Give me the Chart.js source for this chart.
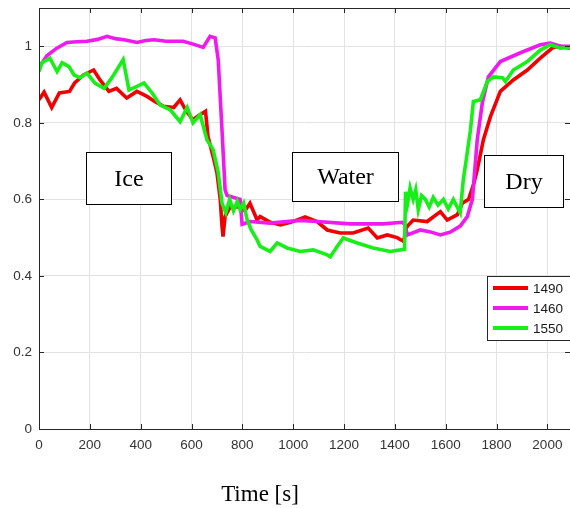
<!DOCTYPE html>
<html>
<head>
<meta charset="utf-8">
<script src="https://cdn.jsdelivr.net/npm/chart.js@4.4.0/dist/chart.umd.min.js"></script>
<style>
html,body{margin:0;padding:0;background:#fff;overflow:hidden;}
#wrap{width:570px;height:508px;position:relative;}
</style>
</head>
<body>
<div id="wrap"><canvas id="c" width="570" height="508"></canvas></div>
<script>
// ---- data ----
const seriesLabels = ['1490', '1460', '1550'];
const seriesColors = ['#f00000', '#ee1aee', '#18ee18'];

const t1490 = [0,20,50,80,120,140,175,215,240,275,305,345,385,425,455,490,530,555,580,605,630,655,665,685,700,713,720,724,732,752,790,810,830,858,870,910,950,990,1047,1094,1134,1185,1236,1295,1331,1370,1409,1435,1442,1449,1472,1527,1579,1606,1646,1665,1690,1710,1724,1748,1776,1815,1866,1921,1972,2020,2050,2089];
const v1490 = [0.86,0.88,0.84,0.878,0.882,0.904,0.925,0.938,0.912,0.882,0.89,0.865,0.882,0.869,0.856,0.843,0.84,0.86,0.83,0.808,0.82,0.83,0.764,0.712,0.67,0.6,0.53,0.503,0.555,0.58,0.58,0.57,0.59,0.546,0.555,0.54,0.533,0.54,0.554,0.542,0.52,0.512,0.512,0.525,0.499,0.507,0.5,0.49,0.52,0.53,0.546,0.542,0.568,0.546,0.56,0.59,0.6,0.64,0.677,0.755,0.816,0.882,0.912,0.938,0.969,0.996,1.0,0.995];

const t1460 = [0,31,70,110,150,189,230,268,300,335,386,420,453,500,567,610,646,673,693,705,720,732,740,791,799,831,909,1028,1094,1224,1354,1429,1438,1450,1500,1540,1579,1620,1657,1685,1705,1724,1744,1768,1815,1894,1972,2012,2051,2089];
const v1460 = [0.945,0.975,0.995,1.01,1.012,1.013,1.018,1.026,1.02,1.017,1.01,1.015,1.017,1.013,1.013,1.005,0.997,1.026,1.022,0.965,0.78,0.625,0.61,0.6,0.535,0.542,0.538,0.545,0.542,0.536,0.536,0.54,0.535,0.507,0.52,0.515,0.507,0.515,0.53,0.555,0.6,0.755,0.852,0.92,0.96,0.983,1.004,1.008,1.0,1.0];

const t1550 = [0,12,43,71,91,118,138,161,189,220,256,287,331,354,386,413,445,476,516,555,583,606,634,661,685,705,720,735,750,765,780,791,805,819,835,858,870,909,937,976,1028,1079,1134,1146,1173,1197,1252,1315,1382,1421,1438,1442,1450,1460,1472,1482,1492,1505,1520,1535,1551,1570,1591,1610,1630,1645,1657,1669,1680,1697,1709,1736,1764,1787,1823,1835,1866,1921,1972,2012,2051,2089];
const v1550 = [0.934,0.957,0.969,0.934,0.957,0.947,0.925,0.918,0.93,0.904,0.89,0.918,0.965,0.886,0.895,0.904,0.878,0.847,0.834,0.803,0.84,0.8,0.821,0.755,0.73,0.67,0.59,0.565,0.6,0.57,0.595,0.573,0.59,0.546,0.52,0.494,0.477,0.464,0.486,0.473,0.464,0.468,0.455,0.45,0.477,0.499,0.486,0.473,0.464,0.468,0.47,0.62,0.59,0.63,0.6,0.625,0.573,0.61,0.6,0.58,0.605,0.585,0.6,0.575,0.6,0.58,0.565,0.65,0.7,0.78,0.856,0.86,0.908,0.92,0.918,0.908,0.938,0.96,0.99,1.004,0.995,0.997];

const xTickValues = [0,200,400,600,800,1000,1200,1400,1600,1800,2000];
const yTickValues = [0,0.2,0.4,0.6,0.8,1];
const regionLabels = ['Ice', 'Water', 'Dry'];
// region label boxes in data units: [x0, x1, yTop, yBottom]
const regionBoxes = [[185,520,0.724,0.588],[996,1413,0.724,0.596],[1752,2063,0.716,0.58]];
const xTitle = 'Time [s]';

function pairs(t, v){ return t.map((x,i)=>({x:x, y:v[i]})); }
const seriesT = [t1490, t1460, t1550];
const seriesV = [v1490, v1460, v1550];

const datasets = seriesLabels.map((lab,i)=>({
  label: lab,
  data: pairs(seriesT[i], seriesV[i]),
  borderColor: seriesColors[i],
  backgroundColor: seriesColors[i],
  borderWidth: 3.6,
  pointRadius: 0,
  tension: 0,
  fill: false,
  order: 3 - i
}));

const tickFont = {family: '"Liberation Sans", Arial, sans-serif', size: 13.5};
const AXC = '#333333';

const decor = {
  id: 'decor',
  afterDatasetsDraw(chart){
    const ctx = chart.ctx, a = chart.chartArea;
    const xs = chart.scales.x, ys = chart.scales.y;
    ctx.save();
    // axes box + inward ticks
    ctx.strokeStyle = '#262626';
    ctx.lineWidth = 1;
    ctx.beginPath();
    ctx.moveTo(a.left+0.5, a.top+0.5); ctx.lineTo(a.left+0.5, a.bottom+0.5);
    ctx.lineTo(a.right+0.5, a.bottom+0.5);
    ctx.moveTo(a.left+0.5, a.top+0.5); ctx.lineTo(a.right+0.5, a.top+0.5);
    xTickValues.forEach(v=>{
      const p = Math.round(xs.getPixelForValue(v))+0.5;
      ctx.moveTo(p, a.bottom); ctx.lineTo(p, a.bottom-5);
      ctx.moveTo(p, a.top); ctx.lineTo(p, a.top+5);
    });
    yTickValues.forEach(v=>{
      const p = Math.round(ys.getPixelForValue(v))+0.5;
      ctx.moveTo(a.left, p); ctx.lineTo(a.left+5, p);
      ctx.moveTo(a.right, p); ctx.lineTo(a.right-5, p);
    });
    ctx.stroke();

    // region label boxes
    ctx.font = '24px "Liberation Serif", "Times New Roman", serif';
    ctx.textAlign = 'center'; ctx.textBaseline = 'middle';
    regionBoxes.forEach((b,i)=>{
      const x0 = Math.round(xs.getPixelForValue(b[0]))+0.5, x1 = Math.round(xs.getPixelForValue(b[1]))+0.5;
      const y0 = Math.round(ys.getPixelForValue(b[2]))+0.5, y1 = Math.round(ys.getPixelForValue(b[3]))+0.5;
      ctx.fillStyle = '#fff';
      ctx.fillRect(x0, y0, x1-x0, y1-y0);
      ctx.strokeStyle = '#000'; ctx.lineWidth = 1;
      ctx.strokeRect(x0, y0, x1-x0, y1-y0);
      ctx.fillStyle = '#000';
      ctx.fillText(regionLabels[i], (x0+x1)/2, (y0+y1)/2 + 1);
    });

    // legend
    const lx = 487.5, ly = 276.5, lw = 84, lh = 64;
    ctx.fillStyle = '#fff';
    ctx.fillRect(lx, ly, lw, lh);
    ctx.strokeStyle = '#262626'; ctx.lineWidth = 1;
    ctx.strokeRect(lx, ly, lw, lh);
    ctx.font = '13.5px "Liberation Sans", Arial, sans-serif';
    ctx.textAlign = 'left'; ctx.textBaseline = 'middle';
    seriesLabels.forEach((lab,i)=>{
      const yy = 288 + i*20;
      ctx.strokeStyle = seriesColors[i]; ctx.lineWidth = 4;
      ctx.beginPath(); ctx.moveTo(493, yy); ctx.lineTo(528, yy); ctx.stroke();
      ctx.fillStyle = '#1a1a1a';
      ctx.fillText(lab, 533, yy+1);
    });

    // x-axis title
    ctx.font = '23px "Liberation Serif", "Times New Roman", serif';
    ctx.textAlign = 'center'; ctx.textBaseline = 'middle';
    ctx.fillStyle = '#000';
    ctx.fillText(xTitle, 260, 495);
    ctx.restore();
  }
};

new Chart(document.getElementById('c'), {
  type: 'line',
  data: { datasets: datasets },
  options: {
    responsive: false,
    animation: false,
    events: [],
    layout: { padding: { top: 8, right: 0, left: 0, bottom: 0 } },
    plugins: { legend: { display: false }, tooltip: { enabled: false }, title: { display: false } },
    scales: {
      x: {
        type: 'linear', min: 0, max: 2089,
        afterBuildTicks: s => { s.ticks = xTickValues.map(v=>({value:v})); },
        afterFit: s => { s.height = 79; s.paddingLeft = 0; s.paddingRight = 0; },
        ticks: { font: tickFont, color: AXC, padding: 8, maxRotation: 0, autoSkip: false,
                 callback: v => String(v) },
        grid: { color: '#e2e2e2', lineWidth: 1, drawTicks: false },
        border: { display: false }
      },
      y: {
        type: 'linear', min: 0, max: 1.1,
        afterBuildTicks: s => { s.ticks = yTickValues.map(v=>({value:v})); },
        afterFit: s => { s.width = 39; s.paddingTop = 0; s.paddingBottom = 0; },
        ticks: { font: tickFont, color: AXC, padding: 7, autoSkip: false,
                 callback: v => String(+v.toFixed(1)) },
        grid: { color: '#e2e2e2', lineWidth: 1, drawTicks: false },
        border: { display: false }
      }
    }
  },
  plugins: [decor]
});
</script>
</body>
</html>
